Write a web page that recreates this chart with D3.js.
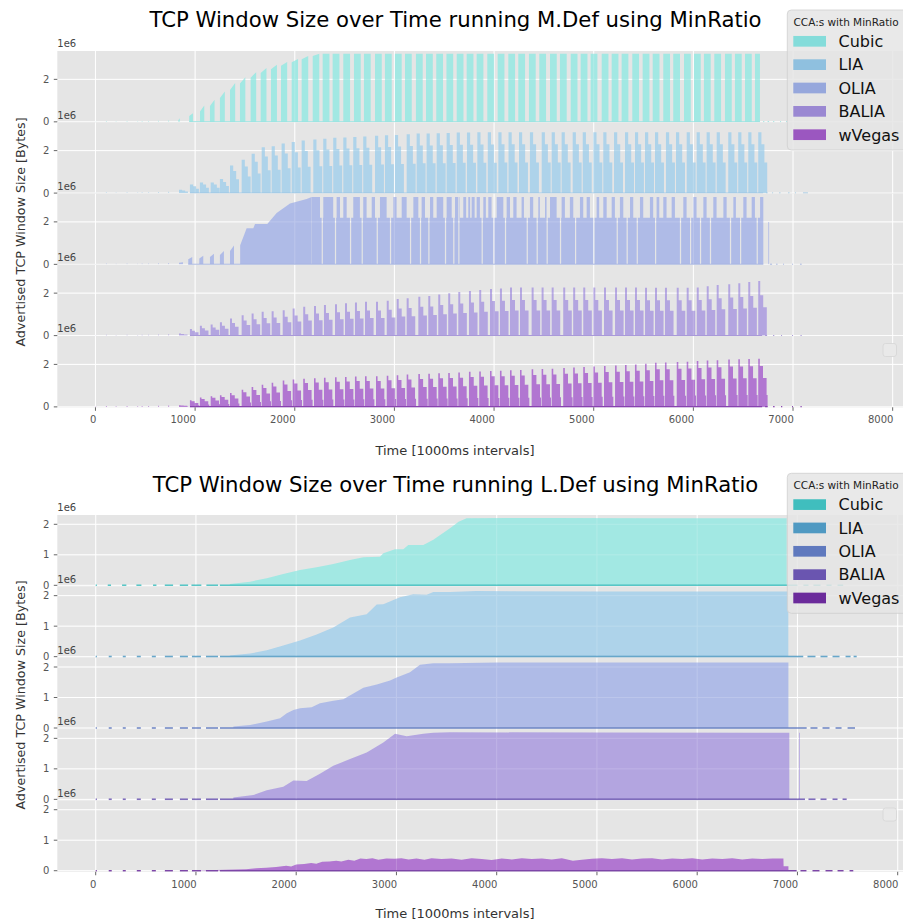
<!DOCTYPE html>
<html>
<head>
<meta charset="utf-8">
<script src="https://cdn.jsdelivr.net/npm/d3@7"></script>
<style>
  body { margin: 0; background: #ffffff; }
  svg { display: block; font-family: "DejaVu Sans", sans-serif; }
</style>
</head>
<body>
<svg id="chart" width="903" height="921"></svg>
<script>
// ---------- labels ----------
const categories = ["Cubic", "LIA", "OLIA", "BALIA", "wVegas"];
const figureTitles = [
  "TCP Window Size over Time running M.Def using MinRatio",
  "TCP Window Size over Time running L.Def using MinRatio"
];
const legendTitle = "CCA:s with MinRatio";
const xLabel = "Time [1000ms intervals]";
const yLabel = "Advertised TCP Window Size [Bytes]";
const yOffsetLabel = "1e6";
const xTickValues = [0, 1000, 2000, 3000, 4000, 5000, 6000, 7000, 8000];
const mYTicks = [0, 2];
const lYTicks = [0, 1, 2];

// ---------- M.Def run (window in units of 1e6 bytes) ----------
// small readings near zero before the transfers start
const mEarlyBlips = [[0, 0.02], [105, 0.04], [203, 0.03], [313, 0.04], [420, 0.03], [464, 0.04], [530, 0.04], [630, 0.05], [731, 0.06]];

// Cubic: bursts as [start, end, window at start, window at end]
const mCubicBursts = [
  [831, 846, 0.08, 0.17], [941, 978, 0.28, 0.4], [1049, 1092, 0.49, 0.77], [1149, 1195, 0.75, 1.04],
  [1249, 1298, 1.12, 1.43], [1350, 1402, 1.5, 1.83], [1450, 1504, 1.8, 2.1], [1557, 1613, 2.08, 2.34],
  [1658, 1716, 2.3, 2.53], [1761, 1821, 2.48, 2.69], [1862, 1924, 2.64, 2.82], [1969, 2033, 2.8, 2.96],
  [2069, 2135, 2.95, 3.1], [2180, 2246, 3.1, 3.2], [2280, 2348, 3.2, 3.2], [2380, 2448, 3.2, 3.2],
  [2487, 2555, 3.2, 3.2], [2594, 2662, 3.2, 3.2], [2694, 2762, 3.2, 3.2], [2805, 2873, 3.2, 3.2],
  [2905, 2973, 3.2, 3.2], [3005, 3073, 3.2, 3.2], [3106, 3174, 3.2, 3.2], [3216, 3284, 3.2, 3.2],
  [3317, 3385, 3.2, 3.2], [3420, 3488, 3.2, 3.2], [3522, 3590, 3.2, 3.2], [3625, 3693, 3.2, 3.2],
  [3725, 3793, 3.2, 3.2], [3825, 3893, 3.2, 3.2], [3932, 4000, 3.2, 3.2], [4036, 4104, 3.2, 3.2],
  [4143, 4211, 3.2, 3.2], [4243, 4311, 3.2, 3.2], [4350, 4418, 3.2, 3.2], [4454, 4522, 3.2, 3.2],
  [4561, 4629, 3.2, 3.2], [4661, 4729, 3.2, 3.2], [4769, 4837, 3.2, 3.2], [4869, 4937, 3.2, 3.2],
  [4969, 5037, 3.2, 3.2], [5080, 5148, 3.2, 3.2], [5180, 5248, 3.2, 3.2], [5280, 5348, 3.2, 3.2],
  [5387, 5455, 3.2, 3.2], [5491, 5559, 3.2, 3.2], [5592, 5660, 3.2, 3.2], [5698, 5766, 3.2, 3.2],
  [5798, 5866, 3.2, 3.2], [5906, 5974, 3.2, 3.2], [6006, 6074, 3.2, 3.2], [6106, 6174, 3.2, 3.2],
  [6210, 6278, 3.2, 3.2], [6317, 6385, 3.2, 3.2], [6417, 6485, 3.2, 3.2], [6518, 6586, 3.2, 3.2],
  [6618, 6668, 3.2, 3.2]
];
const mCubicBase = [[941, 6668], [6700, 6712], [6745, 6760], [6800, 6812], [6870, 6880], [6930, 6940]];

// LIA: bursts as [start, peak]; profile as [offset, fraction of peak]
const mLiaBursts = [
  [838, 0.16], [948, 0.4], [1048, 0.5], [1156, 0.5], [1249, 0.66], [1350, 1.3], [1467, 1.57], [1567, 1.85],
  [1668, 2.16], [1768, 2.21], [1868, 2.33], [1969, 2.4], [2069, 2.48], [2186, 2.52], [2286, 2.56], [2386, 2.6],
  [2487, 2.62], [2587, 2.64], [2687, 2.67], [2805, 2.7], [2905, 2.72], [3005, 2.74], [3123, 2.77], [3223, 2.8],
  [3323, 2.8], [3424, 2.82], [3524, 2.83], [3625, 2.85], [3728, 2.85], [3832, 2.86], [3937, 2.86], [4043, 2.87],
  [4145, 2.87], [4250, 2.87], [4360, 2.87], [4478, 2.87], [4578, 2.87], [4678, 2.87], [4789, 2.87], [4890, 2.87],
  [4996, 2.87], [5096, 2.87], [5204, 2.87], [5314, 2.87], [5414, 2.87], [5515, 2.87], [5615, 2.87], [5725, 2.87],
  [5826, 2.87], [5933, 2.87], [6033, 2.87], [6133, 2.87], [6234, 2.87], [6350, 2.87], [6450, 2.87], [6551, 2.87],
  [6651, 2.87]
];
const mLiaProfile = [[0, 1], [32, 1], [32, 0.8], [62, 0.8], [62, 0.5], [90, 0.5], [90, 0]];
const mLiaBase = [[948, 6700], [6730, 6745], [6790, 6800], [6860, 6875], [6950, 6965], [7020, 7030], [7100, 7150]];

// OLIA: short early bursts, a ramp, then a plateau with full-height bursts and brief drops
const mOliaBursts = [[838, 0.1], [931, 0.35], [1042, 0.4], [1149, 0.5], [1249, 0.63], [1350, 0.89]];
const mOliaProfile = [[0, 0.7], [40, 1], [40, 0]];
const mOliaRamp = [[1452, 0.9], [1517, 1.7], [1584, 1.7], [1601, 1.9], [1724, 1.9], [1818, 2.42], [1952, 2.86], [2119, 3.08], [2169, 3.17]];
const mOliaSpan = [2169, 6702];
const mOliaLevels = [3.17, 2.2];  // burst level, plateau level
const mOliaTopBursts = [
  [2169, 2253], [2286, 2386], [2420, 2454], [2487, 2521], [2587, 2654], [2687, 2721], [2772, 2805], [2855, 2922],
  [2989, 3022], [3073, 3123], [3190, 3240], [3273, 3307], [3357, 3390], [3424, 3490], [3524, 3575], [3608, 3658],
  [3691, 3720], [3741, 3760], [3775, 3805], [3825, 3858], [3892, 3918], [3942, 3975], [4026, 4093], [4126, 4160],
  [4193, 4226], [4276, 4300], [4360, 4393], [4444, 4460], [4511, 4527], [4561, 4628], [4678, 4711], [4761, 4795],
  [4862, 4895], [4929, 4962], [5029, 5055], [5096, 5130], [5180, 5213], [5263, 5297], [5364, 5397], [5464, 5497],
  [5564, 5597], [5631, 5658], [5698, 5731], [5782, 5815], [5899, 5932], [5999, 6032], [6100, 6133], [6200, 6233],
  [6301, 6334], [6401, 6427], [6501, 6534], [6585, 6618], [6669, 6702]
];
const mOliaDrops = [
  2270, 2403, 2554, 2671, 2822, 2955, 3156, 3256, 3340, 3507, 3590, 3641, 3875, 3992, 4109, 4327,
  4427, 4527, 4661, 4812, 4996, 5230, 5330, 5431, 5615, 5865, 5966, 6066, 6166, 6367, 6468, 6635
];
const mOliaLate = [[6752, 6760, 2.0, 2.0]];
const mOliaBase = [[931, 6702], [6768, 6790], [6830, 6845], [6900, 6910], [6990, 7000], [7070, 7087]];

// BALIA
const mBaliaBursts = [
  [838, 0.1], [948, 0.31], [1048, 0.47], [1156, 0.52], [1249, 0.63], [1350, 0.8], [1467, 0.96], [1567, 1.04],
  [1668, 1.12], [1768, 1.15], [1879, 1.2], [1979, 1.28], [2085, 1.36], [2193, 1.4], [2293, 1.44], [2404, 1.48],
  [2504, 1.52], [2604, 1.56], [2705, 1.6], [2815, 1.6], [2923, 1.64], [3023, 1.72], [3123, 1.76], [3240, 1.83],
  [3340, 1.86], [3440, 1.94], [3540, 2.0], [3641, 2.05], [3748, 2.1], [3851, 2.15], [3959, 2.2], [4059, 2.22],
  [4160, 2.27], [4260, 2.27], [4377, 2.27], [4477, 2.27], [4578, 2.27], [4694, 2.27], [4794, 2.27], [4895, 2.27],
  [4996, 2.27], [5103, 2.27], [5214, 2.27], [5314, 2.27], [5414, 2.27], [5515, 2.25], [5615, 2.25], [5715, 2.25],
  [5833, 2.25], [5933, 2.25], [6034, 2.27], [6134, 2.32], [6234, 2.38], [6350, 2.42], [6451, 2.46], [6551, 2.52],
  [6651, 2.57]
];
const mBaliaProfile = [[0, 1], [20, 1], [20, 0.74], [50, 0.74], [50, 0.52], [86, 0.52], [86, 0]];
const mBaliaBase = [[948, 6690], [6720, 6740], [6800, 6812], [6880, 6890], [6990, 7000], [7075, 7087]];

// wVegas
const mWvegasBursts = [
  [838, 0.08], [948, 0.31], [1048, 0.44], [1156, 0.5], [1249, 0.55], [1350, 0.65], [1467, 0.81], [1567, 0.93],
  [1668, 1.04], [1768, 1.13], [1879, 1.24], [1979, 1.29], [2085, 1.32], [2193, 1.35], [2293, 1.37], [2404, 1.39],
  [2504, 1.41], [2604, 1.43], [2705, 1.44], [2815, 1.44], [2923, 1.47], [3023, 1.49], [3123, 1.52], [3240, 1.55],
  [3340, 1.56], [3440, 1.58], [3540, 1.6], [3641, 1.62], [3748, 1.65], [3851, 1.67], [3959, 1.69], [4059, 1.7],
  [4160, 1.72], [4260, 1.74], [4377, 1.77], [4477, 1.78], [4578, 1.8], [4694, 1.83], [4794, 1.85], [4895, 1.88],
  [4996, 1.9], [5103, 1.93], [5214, 1.95], [5314, 1.97], [5414, 2.0], [5515, 2.03], [5615, 2.08], [5715, 2.09],
  [5833, 2.11], [5933, 2.13], [6034, 2.16], [6134, 2.18], [6234, 2.2], [6350, 2.23], [6451, 2.24], [6551, 2.25],
  [6651, 2.26]
];
const mWvegasProfile = [[0, 1], [16, 1], [16, 0.85], [48, 0.85], [48, 0.6], [84, 0.6], [84, 0.25], [94, 0.25], [94, 0]];
const mWvegasBase = [[948, 6690], [6720, 6745], [6800, 6815], [6880, 6892], [6990, 7000], [7075, 7087]];

// ---------- L.Def run ----------
const lCubicWindow = [
  [1338, 0.04], [1540, 0.12], [1706, 0.23], [1871, 0.37], [2038, 0.5], [2204, 0.59], [2370, 0.7], [2537, 0.83],
  [2670, 0.92], [2836, 0.94], [2869, 1.05], [2986, 1.18], [3068, 1.18], [3118, 1.32], [3268, 1.32], [3368, 1.49],
  [3534, 1.87], [3620, 2.08], [3700, 2.2], [4500, 2.21], [5500, 2.2], [6893, 2.2]
];
const lCubicBase = [[0, 12], [120, 153], [263, 306], [406, 456], [572, 606], [689, 772], [839, 922], [955, 1054], [1104, 1221], [1238, 7000], [7060, 7110], [7160, 7230], [7290, 7340], [7400, 7456]];

const lLiaWindow = [
  [1338, 0.04], [1540, 0.1], [1706, 0.21], [1871, 0.37], [2038, 0.53], [2204, 0.73], [2370, 0.96], [2537, 1.28],
  [2703, 1.39], [2803, 1.71], [2869, 1.72], [3035, 1.95], [3168, 2.05], [3301, 2.03], [3368, 2.12], [3534, 2.12],
  [3800, 2.15], [5000, 2.14], [6909, 2.14]
];
const lLiaBase = [[0, 12], [130, 160], [270, 300], [410, 450], [560, 600], [690, 770], [840, 920], [960, 1050], [1100, 1220], [1240, 7058], [7100, 7180], [7230, 7300], [7350, 7420], [7480, 7530], [7560, 7591]];

const lOliaWindow = [
  [1373, 0.05], [1540, 0.1], [1706, 0.21], [1839, 0.32], [1906, 0.48], [1972, 0.59], [2038, 0.65], [2154, 0.68],
  [2237, 0.81], [2370, 0.89], [2470, 0.94], [2570, 1.13], [2670, 1.32], [2803, 1.43], [2936, 1.56], [3002, 1.66],
  [3135, 1.83], [3235, 2.07], [3368, 2.12], [3534, 2.12], [4000, 2.15], [6910, 2.15]
];
const lOliaBase = [[0, 12], [130, 160], [270, 300], [410, 450], [560, 600], [690, 770], [840, 920], [960, 1050], [1100, 1220], [1240, 7092], [7130, 7200], [7250, 7320], [7380, 7440], [7500, 7574]];

const lBaliaWindow = [
  [1373, 0.06], [1573, 0.14], [1706, 0.3], [1871, 0.41], [1972, 0.62], [2104, 0.6], [2237, 0.84], [2370, 1.1],
  [2537, 1.32], [2703, 1.54], [2869, 1.86], [2986, 2.15], [3102, 2.07], [3268, 2.15], [3368, 2.18], [3534, 2.2],
  [5000, 2.19], [6919, 2.18]
];
const lBaliaLate = [[7016, 7024, 2.18, 2.18]];
const lBaliaBase = [[0, 12], [130, 160], [270, 300], [410, 450], [560, 600], [690, 770], [840, 920], [960, 1050], [1100, 1220], [1240, 7075], [7110, 7180], [7230, 7290], [7350, 7400], [7450, 7491]];

const lWvegasWindow = [
  [1000, 0.01], [1300, 0.03], [1500, 0.05], [1600, 0.08], [1700, 0.1], [1800, 0.12], [1900, 0.16], [1950, 0.14],
  [2000, 0.2], [2080, 0.22], [2150, 0.25], [2200, 0.23], [2260, 0.29], [2330, 0.3], [2400, 0.33], [2450, 0.3],
  [2520, 0.36], [2580, 0.33], [2640, 0.4], [2700, 0.38], [2760, 0.41], [2820, 0.36], [2900, 0.4], [2980, 0.39],
  [3050, 0.41], [3120, 0.37], [3200, 0.4], [3280, 0.36], [3350, 0.41], [3450, 0.38], [3550, 0.4], [3650, 0.36],
  [3750, 0.41], [3850, 0.38], [3950, 0.35], [4050, 0.4], [4150, 0.37], [4250, 0.41], [4350, 0.38], [4450, 0.4],
  [4550, 0.37], [4650, 0.41], [4760, 0.33], [4850, 0.36], [4950, 0.39], [5050, 0.41], [5150, 0.38], [5250, 0.41],
  [5350, 0.37], [5450, 0.4], [5550, 0.41], [5650, 0.37], [5750, 0.4], [5850, 0.38], [5950, 0.41], [6050, 0.37],
  [6150, 0.4], [6250, 0.38], [6350, 0.41], [6450, 0.37], [6550, 0.4], [6650, 0.38], [6750, 0.4], [6860, 0.4],
  [6862, 0.15], [6910, 0.15]
];
const lWvegasBase = [[0, 12], [130, 160], [270, 300], [410, 450], [560, 600], [690, 770], [840, 920], [960, 1050], [1100, 1220], [1240, 6992], [7030, 7090], [7150, 7220], [7280, 7350], [7400, 7460], [7520, 7557]];

// ---------- styling ----------
const fillColors = ["#a2e8e3", "#aed3ea", "#b0bce7", "#b3a5e1", "#b176d1"];
const mLegendColors = ["#84dcda", "#8fc0df", "#96a7dc", "#9a88d2", "#9b57c0"];
const lLegendColors = ["#40bebe", "#4f99c2", "#5f79be", "#6a55b0", "#6b2b9b"];
const mBaseColors = ["#84dcda", "#8fc0df", "#96a7dc", "#9a88d2", "#7a2ea6"];

const svg = d3.select("#chart");
const W = 903;

// ---------- geometry helpers ----------
function rampPolys(bursts) {
  return bursts.map(([t0, t1, lo, hi]) => [[t0, 0], [t0, lo], [t1, hi], [t1, 0]]);
}
function profilePolys(bursts, profile) {
  return bursts.map(([t0, peak]) => [[t0, 0]].concat(profile.map(([dt, f]) => [t0 + dt, f * peak])));
}
function blipPolys(blips, width) {
  return blips.map(([t, v]) => [[t, 0], [t, v], [t + width, v], [t + width, 0]]);
}
function drawPolys(layer, x, y, polys, color) {
  const line = d3.line().x(d => x(d[0])).y(d => y(d[1]));
  layer.append("path")
    .attr("d", polys.map(p => line(p) + "Z").join(""))
    .attr("fill", color);
}
function drawEnvelope(layer, x, y, points, color, curve) {
  const area = d3.area().x(d => x(d[0])).y0(y(0)).y1(d => y(d[1])).curve(curve || d3.curveLinear);
  layer.append("path").datum(points).attr("d", area).attr("fill", color);
}
function drawBaseline(layer, x, y, segments, color, width) {
  layer.selectAll(null).data(segments).join("line")
    .attr("x1", d => x(d[0])).attr("x2", d => x(d[1]))
    .attr("y1", y(0)).attr("y2", y(0))
    .attr("stroke", color).attr("stroke-width", width);
}
// step profile of the OLIA plateau built from its listed bursts and drops
function plateauSteps(span, bursts, drops, levels, dropWidth) {
  const pts = [];
  for (let t = span[0]; t <= span[1]; t += 1) {
    let v = levels[1];
    if (bursts.some(([a, b]) => t >= a && t < b)) v = levels[0];
    if (drops.some(d => t >= d && t < d + dropWidth)) v = 0;
    if (!pts.length || pts[pts.length - 1][1] !== v) pts.push([t, v]);
  }
  pts.push([span[1], pts[pts.length - 1][1]]);
  return pts;
}

// ---------- panel renderers ----------
const mPanels = [
  (g, x, y) => {
    drawPolys(g, x, y, blipPolys(mEarlyBlips, 8), fillColors[0]);
    drawPolys(g, x, y, rampPolys(mCubicBursts), fillColors[0]);
    drawBaseline(g, x, y, mCubicBase, mBaseColors[0], 1.3);
  },
  (g, x, y) => {
    drawPolys(g, x, y, blipPolys(mEarlyBlips, 8), fillColors[1]);
    drawPolys(g, x, y, profilePolys(mLiaBursts, mLiaProfile), fillColors[1]);
    drawBaseline(g, x, y, mLiaBase, mBaseColors[1], 1.3);
  },
  (g, x, y) => {
    drawPolys(g, x, y, blipPolys(mEarlyBlips, 8), fillColors[2]);
    drawPolys(g, x, y, profilePolys(mOliaBursts, mOliaProfile), fillColors[2]);
    drawEnvelope(g, x, y, mOliaRamp, fillColors[2]);
    drawEnvelope(g, x, y, plateauSteps(mOliaSpan, mOliaTopBursts, mOliaDrops, mOliaLevels, 12), fillColors[2], d3.curveStepAfter);
    drawPolys(g, x, y, rampPolys(mOliaLate), fillColors[2]);
    drawBaseline(g, x, y, mOliaBase, mBaseColors[2], 1.3);
  },
  (g, x, y) => {
    drawPolys(g, x, y, blipPolys(mEarlyBlips, 8), fillColors[3]);
    drawPolys(g, x, y, profilePolys(mBaliaBursts, mBaliaProfile), fillColors[3]);
    drawBaseline(g, x, y, mBaliaBase, mBaseColors[3], 1.3);
  },
  (g, x, y) => {
    drawPolys(g, x, y, blipPolys(mEarlyBlips, 8), fillColors[4]);
    drawPolys(g, x, y, profilePolys(mWvegasBursts, mWvegasProfile), fillColors[4]);
    drawBaseline(g, x, y, mWvegasBase, mBaseColors[4], 2);
  }
];

const lPanels = [
  (g, x, y) => {
    drawEnvelope(g, x, y, lCubicWindow, fillColors[0]);
    drawBaseline(g, x, y, lCubicBase, lLegendColors[0], 1.6);
  },
  (g, x, y) => {
    drawEnvelope(g, x, y, lLiaWindow, fillColors[1]);
    drawBaseline(g, x, y, lLiaBase, lLegendColors[1], 1.6);
  },
  (g, x, y) => {
    drawEnvelope(g, x, y, lOliaWindow, fillColors[2]);
    drawBaseline(g, x, y, lOliaBase, lLegendColors[2], 1.6);
  },
  (g, x, y) => {
    drawEnvelope(g, x, y, lBaliaWindow, fillColors[3]);
    drawPolys(g, x, y, rampPolys(lBaliaLate), fillColors[3]);
    drawBaseline(g, x, y, lBaliaBase, lLegendColors[3], 1.6);
  },
  (g, x, y) => {
    drawEnvelope(g, x, y, lWvegasWindow, fillColors[4]);
    drawBaseline(g, x, y, lWvegasBase, lLegendColors[4], 1.6);
  }
];

// ---------- figure ----------
function drawGrid(g, x, y, yTicks, top, bottom, left) {
  g.selectAll(null).data(xTickValues).join("line")
    .attr("x1", d => x(d)).attr("x2", d => x(d))
    .attr("y1", top).attr("y2", bottom)
    .attr("stroke", "#ffffff").attr("stroke-width", 1);
  g.selectAll(null).data(yTicks).join("line")
    .attr("x1", left).attr("x2", W)
    .attr("y1", d => y(d)).attr("y2", d => y(d))
    .attr("stroke", "#ffffff").attr("stroke-width", 1);
}

function drawFigure(spec, idx) {
  const g = svg.append("g");
  const x = d3.scaleLinear().domain(spec.xDomain).range(spec.xRange);
  const left = spec.xRange[0];
  const ph = (spec.bottom - spec.top) / spec.panels.length;

  g.append("text")
    .attr("x", spec.titleX).attr("y", spec.titleY)
    .attr("text-anchor", "middle").attr("font-size", 21.2).attr("fill", "#000")
    .text(figureTitles[idx]);

  spec.panels.forEach((render, i) => {
    const pTop = spec.top + i * ph, pBot = pTop + ph;
    const y = d3.scaleLinear().domain(spec.yDomain).range([pBot, pTop]);
    const clipId = `panel-clip-${idx}-${i}`;
    g.append("clipPath").attr("id", clipId)
      .append("rect").attr("x", left).attr("y", pTop).attr("width", W - left).attr("height", ph);

    g.append("rect").attr("x", left).attr("y", pTop).attr("width", W - left).attr("height", ph).attr("fill", "#e5e5e5");
    drawGrid(g.append("g").attr("clip-path", `url(#${clipId})`), x, y, spec.yTicks, pTop, pBot, left);
    render(g.append("g").attr("clip-path", `url(#${clipId})`), x, y);
    // faint grid showing through the translucent fills
    drawGrid(g.append("g").attr("clip-path", `url(#${clipId})`).attr("opacity", 0.16), x, y, spec.yTicks, pTop, pBot, left);

    // y ticks
    const yt = g.append("g");
    yt.selectAll(null).data(spec.yTicks).join("line")
      .attr("x1", left - 3.5).attr("x2", left)
      .attr("y1", d => y(d)).attr("y2", d => y(d))
      .attr("stroke", "#555").attr("stroke-width", 0.9);
    yt.selectAll(null).data(spec.yTicks).join("text")
      .attr("x", left - 8).attr("y", d => y(d) + 3.6)
      .attr("text-anchor", "end").attr("font-size", 10).attr("fill", "#555")
      .text(d => d3.format("d")(d));
    g.append("text")
      .attr("x", left).attr("y", pTop - 3.7)
      .attr("font-size", 10).attr("fill", "#444")
      .text(yOffsetLabel);
  });

  // x axis of the bottom panel (labels right-aligned to their ticks)
  const xt = g.append("g");
  xt.selectAll(null).data(xTickValues).join("line")
    .attr("x1", d => x(d)).attr("x2", d => x(d))
    .attr("y1", spec.bottom).attr("y2", spec.bottom + 3.5)
    .attr("stroke", "#555").attr("stroke-width", 0.9);
  xt.selectAll(null).data(xTickValues).join("text")
    .attr("x", d => x(d) + 0.8).attr("y", spec.xTickY)
    .attr("text-anchor", "end").attr("font-size", 10).attr("fill", "#555")
    .text(d => d3.format("d")(d));

  g.append("text")
    .attr("x", spec.xLabelX).attr("y", spec.xLabelY)
    .attr("text-anchor", "middle").attr("font-size", 13).attr("fill", "#333")
    .text(xLabel);
  g.append("text")
    .attr("transform", `translate(${spec.yLabelX},${spec.yLabelY}) rotate(-90)`)
    .attr("text-anchor", "middle").attr("font-size", 12.7).attr("fill", "#333")
    .text(yLabel);

  // empty legend box
  g.append("rect")
    .attr("x", 883).attr("y", spec.emptyLegendY).attr("width", 13.5).attr("height", 13).attr("rx", 2.5)
    .attr("fill", "#e9e9e9").attr("stroke", "#d6d6d6").attr("stroke-width", 0.8);

  // legend
  const lg = g.append("g");
  const lt = spec.legendTop;
  lg.append("rect")
    .attr("x", 787.3).attr("y", lt).attr("width", 140).attr("height", 140).attr("rx", 4)
    .attr("fill", "#e5e5e5").attr("fill-opacity", 0.85)
    .attr("stroke", "#cfcfcf").attr("stroke-opacity", 0.8).attr("stroke-width", 1);
  lg.append("text")
    .attr("x", 793.5).attr("y", lt + 16).attr("font-size", 10.5).attr("fill", "#222")
    .text(legendTitle);
  categories.forEach((c, i) => {
    const cy = lt + 31.3 + i * 23.35;
    lg.append("rect").attr("x", 793.3).attr("y", cy - 5.35).attr("width", 32.7).attr("height", 10.7)
      .attr("fill", spec.legendColors[i]);
    lg.append("text").attr("x", 838.5).attr("y", cy + 5.8)
      .attr("font-size", 16).attr("fill", "#111").text(c);
  });
}

drawFigure({
  xDomain: [-383, 8250], xRange: [57.3, 57.3 + 8633 * 0.09965],
  yDomain: [-0.02, 3.335], yTicks: mYTicks,
  top: 51, bottom: 407.3,
  titleX: 455.5, titleY: 27.4,
  xTickY: 423, xLabelX: 455, xLabelY: 454.5,
  yLabelX: 25, yLabelY: 232,
  legendTop: 10, legendColors: mLegendColors,
  emptyLegendY: 343.5,
  panels: mPanels
}, 0);

drawFigure({
  xDomain: [-383, 8200], xRange: [57.3, 57.3 + 8583 * 0.10025],
  yDomain: [-0.034, 2.305], yTicks: lYTicks,
  top: 515, bottom: 871.75,
  titleX: 455.5, titleY: 492.3,
  xTickY: 887.7, xLabelX: 455, xLabelY: 918,
  yLabelX: 25, yLabelY: 695,
  legendTop: 473.3, legendColors: lLegendColors,
  emptyLegendY: 808,
  panels: lPanels
}, 1);
</script>
</body>
</html>
